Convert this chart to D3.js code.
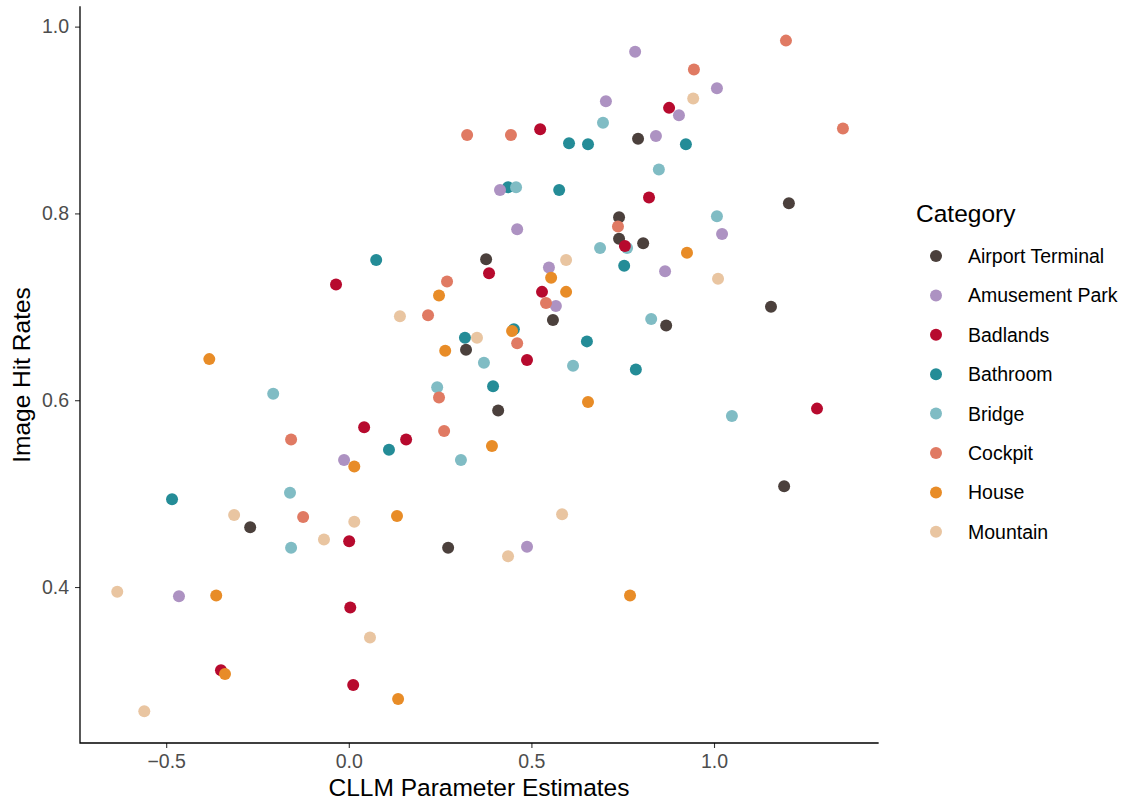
<!DOCTYPE html>
<html>
<head>
<meta charset="utf-8">
<script src="https://cdn.jsdelivr.net/npm/d3@7"></script>
<style>
  body { margin: 0; background: #fff; overflow: hidden; }
  text { font-family: "Liberation Sans", Arial, sans-serif; }
</style>
</head>
<body>
<div id="canvas"></div>
<script>
// Categories and their [CLLM estimate, hit rate] points
const categories = ["Airport Terminal", "Amusement Park", "Badlands", "Bathroom", "Bridge", "Cockpit", "House", "Mountain"];
const colors = ["#4b403c", "#ad92c2", "#b70a2e", "#248c97", "#80bcc4", "#e07a63", "#e88c27", "#e9c5a1"];

const airportTerminal = [[0.792,0.880],[1.205,0.811],[0.740,0.796],[0.740,0.773],[0.806,0.768],[0.376,0.751],[0.559,0.686],[1.156,0.700],[0.869,0.680],[0.321,0.654],[0.409,0.589],[-0.270,0.464],[0.272,0.442],[1.192,0.508]];
const amusementPark = [[0.784,0.973],[1.008,0.934],[0.704,0.920],[0.904,0.905],[0.841,0.883],[0.414,0.825],[0.461,0.783],[1.022,0.778],[0.548,0.742],[0.866,0.738],[0.567,0.701],[-0.013,0.536],[-0.465,0.390],[0.488,0.443]];
const badlands = [[0.877,0.913],[0.524,0.890],[0.822,0.817],[0.756,0.765],[0.384,0.736],[0.529,0.716],[0.488,0.643],[1.282,0.591],[-0.035,0.724],[0.042,0.571],[0.157,0.558],[0.001,0.449],[0.004,0.378],[-0.350,0.311],[0.012,0.295]];
const bathroom = [[0.075,0.750],[0.603,0.875],[0.655,0.874],[0.923,0.874],[0.436,0.828],[0.576,0.825],[0.754,0.744],[0.452,0.676],[0.652,0.663],[0.786,0.633],[0.395,0.615],[0.318,0.667],[0.110,0.547],[-0.484,0.494]];
const bridge = [[0.696,0.897],[0.849,0.847],[0.458,0.828],[1.008,0.797],[0.688,0.763],[0.762,0.763],[0.828,0.687],[0.370,0.640],[0.614,0.637],[1.049,0.583],[-0.207,0.607],[0.242,0.614],[0.307,0.536],[-0.161,0.501],[-0.158,0.442]];
const cockpit = [[0.324,0.884],[0.444,0.884],[1.197,0.985],[0.945,0.954],[1.353,0.891],[0.737,0.786],[0.540,0.704],[0.461,0.661],[0.269,0.727],[0.217,0.691],[0.247,0.603],[0.261,0.567],[-0.158,0.558],[-0.125,0.475]];
const house = [[0.926,0.758],[0.554,0.731],[0.595,0.716],[0.447,0.674],[0.655,0.598],[0.392,0.551],[0.247,0.712],[0.264,0.653],[-0.382,0.644],[0.015,0.529],[0.132,0.476],[-0.363,0.391],[-0.339,0.307],[0.135,0.280],[0.770,0.391]];
const mountain = [[0.943,0.923],[0.595,0.750],[1.011,0.730],[0.351,0.667],[0.140,0.690],[-0.314,0.477],[0.015,0.470],[-0.068,0.451],[-0.634,0.395],[0.058,0.346],[-0.560,0.267],[0.584,0.478],[0.436,0.433]];

const xTicks = [-0.5, 0.0, 0.5, 1.0];
const yTicks = [0.4, 0.6, 0.8, 1.0];

const series = [airportTerminal, amusementPark, badlands, bathroom, bridge, cockpit, house, mountain];
// order in which groups are painted (later ones sit on top)
const drawOrder = ["Bathroom", "Airport Terminal", "Bridge", "Amusement Park", "Badlands", "Cockpit", "House", "Mountain"];

const data = [];
drawOrder.forEach(cat => {
  const i = categories.indexOf(cat);
  series[i].forEach(p => data.push({ category: cat, x: p[0], y: p[1] }));
});

// chart area
const width = 1133;
const height = 805;
const margin = { top: 7, left: 80, bottom: 62, right: 255 };
const innerWidth = width - margin.left - margin.right;
const innerHeight = height - margin.top - margin.bottom;

const svg = d3.select("#canvas").append("svg")
  .attr("width", width)
  .attr("height", height);

const x = d3.scaleLinear().domain([-0.736, 1.449]).range([0, innerWidth]);
const y = d3.scaleLinear().domain([0.233, 1.021]).range([innerHeight, 0]);
const color = d3.scaleOrdinal().domain(categories).range(colors);

const g = svg.append("g").attr("transform", `translate(${margin.left},${margin.top})`);

// points
g.selectAll("circle.pt").data(data)
  .enter().append("circle")
  .attr("class", "pt")
  .attr("cx", d => x(d.x))
  .attr("cy", d => y(d.y))
  .attr("r", 6)
  .style("fill", d => color(d.category));

// axes
const fmt = d3.format(".1f");
const xAxis = g.append("g")
  .attr("transform", `translate(0,${innerHeight})`)
  .call(d3.axisBottom(x).tickValues(xTicks).tickFormat(fmt).tickSizeOuter(0).tickSize(5).tickPadding(6));
const yAxis = g.append("g")
  .call(d3.axisLeft(y).tickValues(yTicks).tickFormat(fmt).tickSizeOuter(0).tickSize(5).tickPadding(6));

[xAxis, yAxis].forEach(a => {
  a.select(".domain").remove();
  a.selectAll(".tick line").attr("stroke", "#333").attr("stroke-width", 1.1);
  a.selectAll(".tick text").attr("fill", "#4d4d4d").style("font-size", "19.5px");
});

// axis lines (L shape, like theme_classic)
g.append("path")
  .attr("d", `M0,0V${innerHeight}H${innerWidth}`)
  .attr("fill", "none")
  .attr("stroke", "#000")
  .attr("stroke-width", 1.3)
  .attr("stroke-linecap", "square");

// axis titles
svg.append("text")
  .attr("x", margin.left + innerWidth / 2)
  .attr("y", 796)
  .attr("text-anchor", "middle")
  .style("font-size", "24.5px")
  .text("CLLM Parameter Estimates");

svg.append("text")
  .attr("transform", `translate(30,${margin.top + innerHeight / 2}) rotate(-90)`)
  .attr("text-anchor", "middle")
  .style("font-size", "24.5px")
  .text("Image Hit Rates");

// legend
const legend = svg.append("g").attr("transform", "translate(916,0)");
legend.append("text")
  .attr("x", 0)
  .attr("y", 222)
  .style("font-size", "24.5px")
  .text("Category");

const items = legend.selectAll("g.item").data(categories)
  .enter().append("g")
  .attr("class", "item")
  .attr("transform", (d, i) => `translate(0,${256 + i * 39.4})`);
items.append("circle")
  .attr("cx", 20)
  .attr("cy", 0)
  .attr("r", 6)
  .style("fill", d => color(d));
items.append("text")
  .attr("x", 52)
  .attr("y", 7)
  .style("font-size", "19.5px")
  .text(d => d);
</script>
</body>
</html>
